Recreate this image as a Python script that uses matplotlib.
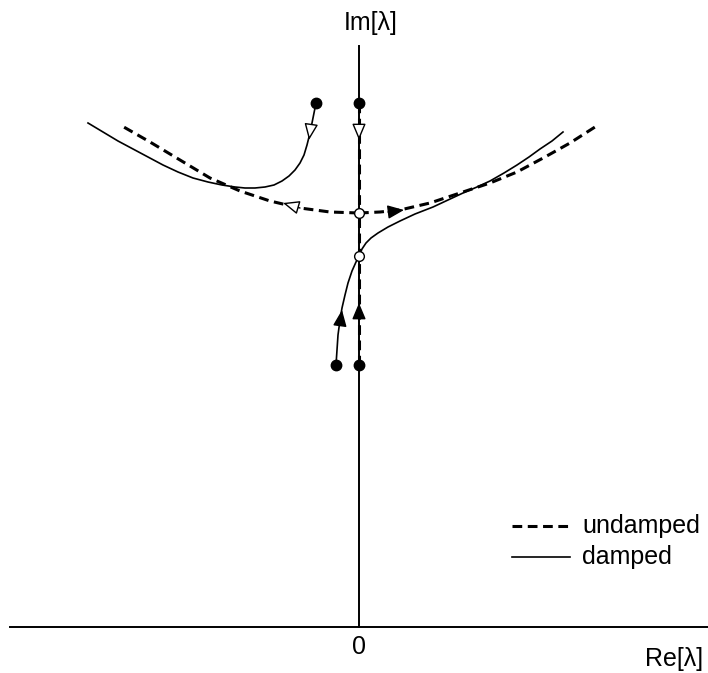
import matplotlib
matplotlib.use("Agg")
import matplotlib.pyplot as plt

plt.rcParams["font.family"] = ["Liberation Sans", "DejaVu Sans"]
plt.rcParams["lines.scale_dashes"] = False

# Undamped eigenvalue paths (Re, Im)
und_up_re = [0.0, 0.0]
und_up_im = [5.24, 4.14]
und_low_re = [0.0, 0.0]
und_low_im = [2.62, 4.14]
und_left_re = [0.0, -0.29, -0.59, -0.89, -1.19, -1.49, -1.79, -2.09, -2.37]
und_left_im = [4.14, 4.15, 4.19, 4.26, 4.36, 4.49, 4.67, 4.85, 5.01]
und_right_re = [0.0, 0.21, 0.41, 0.71, 1.04, 1.31, 1.58, 1.86, 2.11, 2.36]
und_right_im = [4.14, 4.15, 4.17, 4.24, 4.35, 4.44, 4.55, 4.70, 4.84, 5.00]

# Damped eigenvalue paths
dmp_left_re = [-0.43, -0.45, -0.47, -0.49, -0.52, -0.55, -0.59, -0.64, -0.70,
               -0.77, -0.85, -0.94, -1.04, -1.14, -1.24, -1.37, -1.51, -1.66,
               -1.81, -1.96, -2.11, -2.26, -2.41, -2.56, -2.71]
dmp_left_im = [5.24, 5.14, 5.04, 4.94, 4.82, 4.72, 4.64, 4.57, 4.51,
               4.46, 4.42, 4.40, 4.39, 4.39, 4.40, 4.42, 4.45, 4.49,
               4.55, 4.62, 4.70, 4.78, 4.86, 4.95, 5.04]
dmp_right_re = [-0.23, -0.22, -0.21, -0.19, -0.17, -0.14, -0.11, -0.07, -0.03,
                0.0, 0.03, 0.07, 0.12, 0.19, 0.29, 0.41, 0.56, 0.74, 0.89,
                1.04, 1.18, 1.31, 1.45, 1.58, 1.70, 1.81, 1.93, 2.04]
dmp_right_im = [2.62, 2.77, 2.92, 3.07, 3.19, 3.32, 3.44, 3.56, 3.65,
                3.71, 3.78, 3.84, 3.89, 3.94, 4.00, 4.06, 4.13, 4.20, 4.27,
                4.34, 4.40, 4.46, 4.54, 4.62, 4.70, 4.78, 4.86, 4.95]

# starting eigenvalues and coalescence points
start_re = [0.0, -0.43, 0.0, -0.23]
start_im = [5.24, 5.24, 2.62, 2.62]
merge_re = [0.0, 0.0]
merge_im = [4.14, 3.71]

# direction arrows: (tail, tip, hollow)
arrows = [
    ((0.0, 5.02), (0.0, 4.87), True),
    ((-0.48, 5.01), (-0.50, 4.87), True),
    ((-0.59, 4.19), (-0.76, 4.24), True),
    ((0.29, 4.15), (0.45, 4.17), False),
    ((0.0, 3.09), (0.0, 3.24), False),
    ((-0.19, 3.02), (-0.17, 3.17), False),
]

fig = plt.figure(figsize=(7.08, 6.73), dpi=100)
ax = fig.add_axes([0, 0, 1, 1])
ax.set_xlim(-3.59, 3.49)
ax.set_ylim(-0.46, 6.27)
ax.axis("off")

# coordinate axes
ax.plot([-3.49, 3.49], [0, 0], color="black", lw=1.4)
ax.plot([0, 0], [0, 5.81], color="black", lw=1.4)

dash = (0, (7, 4))
for xs, ys in [(und_up_re, und_up_im), (und_low_re, und_low_im),
               (und_left_re, und_left_im), (und_right_re, und_right_im)]:
    ax.plot(xs, ys, color="black", lw=2.2, linestyle=dash)

for xs, ys in [(dmp_left_re, dmp_left_im), (dmp_right_re, dmp_right_im)]:
    ax.plot(xs, ys, color="black", lw=1.2, solid_joinstyle="round")

for tail, tip, hollow in arrows:
    ax.annotate("", xy=tip, xytext=tail,
                arrowprops=dict(arrowstyle="-|>,head_length=1.0,head_width=0.42",
                                fc="white" if hollow else "black", ec="black",
                                lw=1.0, shrinkA=0, shrinkB=0, mutation_scale=10),
                zorder=4)

ax.plot(start_re, start_im, "o", color="black", ms=7.5, zorder=5)
ax.plot(merge_re, merge_im, "o", mfc="white", mec="black", mew=1.0, ms=7, zorder=5)

# labels
ax.text(-0.15, 6.04, "Im[λ]", ha="left", va="center", fontsize=18)
ax.text(3.44, -0.32, "Re[λ]", ha="right", va="center", fontsize=18)
ax.text(0, -0.20, "0", ha="center", va="center", fontsize=18)

# legend
ax.plot([1.53, 2.11], [1.01, 1.01], color="black", lw=2.2, linestyle=dash)
ax.plot([1.53, 2.11], [0.70, 0.70], color="black", lw=1.2)
ax.text(2.23, 1.01, "undamped", ha="left", va="center", fontsize=18)
ax.text(2.23, 0.70, "damped", ha="left", va="center", fontsize=18)

fig.savefig("out.png", dpi=100)
